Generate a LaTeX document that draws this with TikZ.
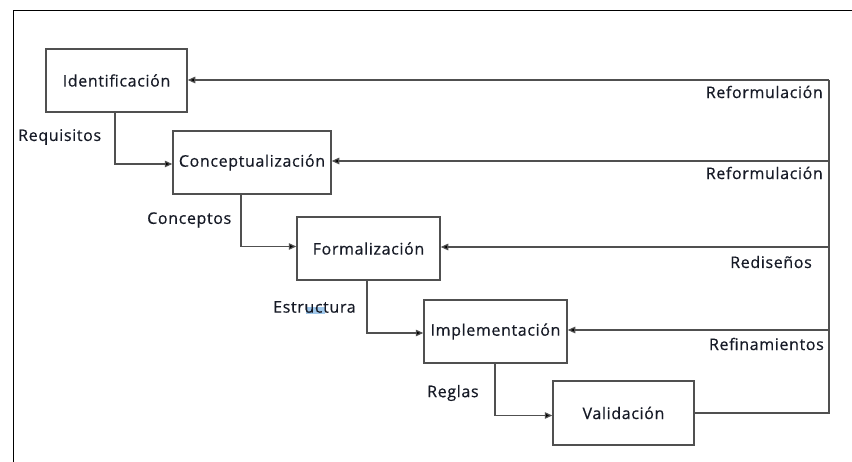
\documentclass[tikz,border=0pt]{standalone}
\usepackage{fontspec}
\setmainfont{Open Sans}[LetterSpace=4, FakeBold=0.5]
\usetikzlibrary{arrows.meta}
\definecolor{txt}{RGB}{22,26,38}
\definecolor{edge}{RGB}{80,80,80}
\definecolor{selblue}{RGB}{160,200,235}
\tikzset{
  stage/.style={draw=edge, line width=1.5pt, fill=white, text=txt,
    font=\fontsize{16}{18}\selectfont, inner sep=0pt},
  lbl/.style={text=txt, font=\fontsize{16}{18}\selectfont, inner sep=0pt},
  flow/.style={draw=edge, line width=1.2pt,
    -{Triangle[length=7.5pt,width=6.5pt,fill=black]}},
  link/.style={draw=edge, line width=1.2pt},
  frame/.style={draw=black, line width=1pt}
}
\begin{document}
\begin{tikzpicture}[x=1pt,y=-1pt]
\useasboundingbox (0,0) rectangle (852,462);
\fill[white] (0,0) rectangle (852,462);

% page frame (top and left edges)
\draw[frame] (852,10.5) -- (13.5,10.5) -- (13.5,462);

% stages
\node[stage, minimum width=141pt, minimum height=63pt] (ident) at (116.5,80.5) {Identificación};
\node[stage, minimum width=158pt, minimum height=63pt] (conc)  at (252,162.5) {Conceptualización};
\node[stage, minimum width=143pt, minimum height=63pt] (form)  at (368.5,248.5) {Formalización};
\node[stage, minimum width=143pt, minimum height=63pt] (impl)  at (495.5,331.5) {Implementación};
\node[stage, minimum width=141pt, minimum height=64pt] (valid) at (623.5,413) {Validación};

% forward flow
\coordinate (c1) at (115,164);
\coordinate (c2) at (241,246.5);
\coordinate (c3) at (367,333);
\coordinate (c4) at (495,415.5);
\draw[flow] (ident.south -| c1) -- (c1) -- (conc.west |- c1);
\draw[flow] (conc.south -| c2) -- (c2) -- (form.west |- c2);
\draw[flow] (form.south -| c3) -- (c3) -- (impl.west |- c3);
\draw[flow] (impl.south -| c4) -- (c4) -- (valid.west |- c4);

% feedback bus
\coordinate (r1) at (829,80);
\coordinate (r2) at (829,161);
\coordinate (r3) at (829,247);
\coordinate (r4) at (829,330);
\draw[link] (valid.east) -| (r1);
\draw[flow] (r1) -- (ident.east |- r1);
\draw[flow] (r2) -- (conc.east |- r2);
\draw[flow] (r3) -- (form.east |- r3);
\draw[flow] (r4) -- (impl.east |- r4);

% labels
\node[lbl, anchor=west] (lreq) at (18,137) {Requisitos};
\node[lbl, anchor=west] (lcon) at (147,220) {Conceptos};
\fill[selblue] (306,307) rectangle (325,314);
\node[lbl, anchor=west] (lest) at (273,307) {Estructura};
\node[lbl, anchor=west] (lreg) at (427,393) {Reglas};
\node[lbl, anchor=east] (lrf1) at (823,92) {Reformulación};
\node[lbl, anchor=east] (lrf2) at (823,173) {Reformulación};
\node[lbl, anchor=east] (lred) at (812,262) {Rediseños};
\node[lbl, anchor=east] (lref) at (824,344) {Refinamientos};
\end{tikzpicture}
\end{document}
